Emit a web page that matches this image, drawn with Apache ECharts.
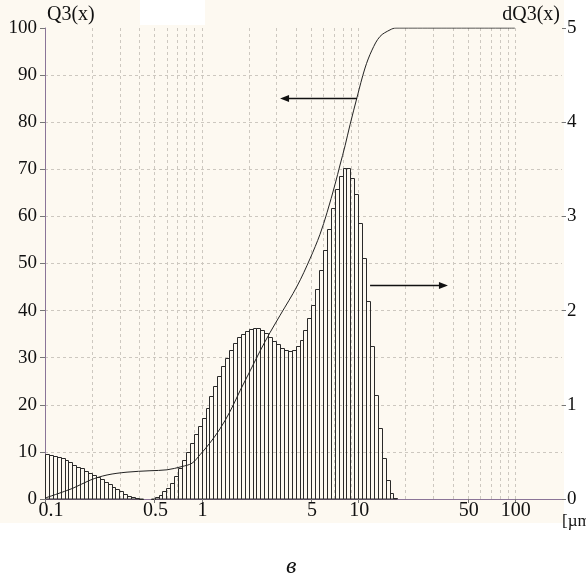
<!DOCTYPE html>
<html><head><meta charset="utf-8">
<script src="https://cdn.jsdelivr.net/npm/echarts@6/dist/echarts.min.js"></script>
<style>html,body{margin:0;padding:0;background:#fff;}#c{width:586px;height:585px;}</style>
</head><body><div id="c"></div>
<script>
// ---- data ----
const binStart = 0.1;          // lower edge of first size class [µm]
const binsPerDecade = 40;      // log-spaced size classes
// dQ3(x) per size class (right axis)
const dQ3 = [0.48,0.47,0.46,0.445,0.43,0.415,0.39,0.365,0.345,0.325,
  0.30,0.275,0.255,0.235,0.21,0.18,0.16,0.13,0.105,0.08,
  0.055,0.035,0.02,0.01,0.005,0,0,0.005,0.02,0.045,
  0.08,0.12,0.17,0.24,0.33,0.41,0.50,0.59,0.69,0.77,
  0.865,0.97,1.09,1.20,1.31,1.41,1.50,1.585,1.66,1.715,
  1.755,1.785,1.805,1.815,1.815,1.795,1.765,1.72,1.68,1.645,
  1.605,1.58,1.575,1.58,1.62,1.69,1.795,1.925,2.06,2.23,
  2.43,2.645,2.87,3.09,3.29,3.43,3.515,3.515,3.41,3.24,
  2.93,2.56,2.105,1.625,1.10,0.75,0.435,0.20,0.065,0.015];
// cumulative Q3(x) curve (left axis)
const q3Sizes  = [0.1,0.151,0.194,0.249,0.334,0.468,0.601,0.75,0.868,0.977,1.13,1.31,1.52,1.76,2.04,2.36,2.73,3.17,4.07,4.92,5.70,6.32,7.11,7.65,8.24,8.87,9.83,11.05,12.24,13.77,15.96,17.4,100];
const q3Values = [0.2,2.3,4.0,5.1,5.7,6.0,6.2,6.9,7.6,9.4,11.9,14.9,18.6,23.0,27.2,31.4,35.3,39.0,45.2,51.0,56.2,60.8,66.8,70.9,75.0,79.5,85.3,91.5,95.3,98.2,99.6,100,100];
const xTickLabels = [0.1,0.5,1,5,10,50,100];
const xGridLines = [0.2,0.3,0.4,0.5,0.6,0.7,0.8,0.9,1,2,3,4,5,6,7,8,9,10,20,30,40,50,60,70,80,90,100];
// arrows: [fromSize, fromQ3, toSize, toQ3]
const arrows = [[9.83,85.1,3.17,85.1],[11.9,45.4,37.4,45.4]];

// ---- build ----
const bars = dQ3.map((v,i)=>[binStart*Math.pow(10,i/binsPerDecade), binStart*Math.pow(10,(i+1)/binsPerDecade), v]);
const q3Data = q3Sizes.map((s,i)=>[s,q3Values[i]]);
const FONT = '"Liberation Serif", "Times New Roman", serif';
const purple = '#8b7598';
const gridCol = '#cdc8c0';

const chart = echarts.init(document.getElementById('c'), null, {renderer:'canvas'});
chart.setOption({
  animation:false,
  backgroundColor:'#fdf9f1',
  grid:{left:45,right:24,top:28,bottom:86,containLabel:false},
  graphic:[
    {type:'rect',z:-10,shape:{x:564,y:0,width:30,height:585},style:{fill:'#ffffff'},silent:true},
    {type:'rect',z:-10,shape:{x:0,y:523,width:586,height:70},style:{fill:'#ffffff'},silent:true},
    {type:'rect',z:-10,shape:{x:140,y:0,width:65,height:25},style:{fill:'#ffffff'},silent:true},
    {type:'text',z:10,left:562,top:513,style:{text:'[µm]',font:'17px '+FONT,fill:'#111'}},
    {type:'text',z:10,left:286,top:555,style:{text:'в',font:'italic 24px '+FONT,fill:'#111'}}
  ],
  xAxis:[
    {type:'log',logBase:10,min:0.1,max:200,position:'bottom',
     axisLine:{show:false},axisTick:{show:false},axisLabel:{show:false},splitLine:{show:false}},
    {type:'log',logBase:10,min:0.1,max:200,position:'top',
     axisLine:{show:true,lineStyle:{color:purple,width:1}},axisTick:{show:false},axisLabel:{show:false},splitLine:{show:false}}
  ],
  yAxis:[
    {type:'value',min:0,max:100,interval:10,position:'left',
     name:'Q3(x)',nameLocation:'end',nameGap:3,
     nameTextStyle:{fontFamily:FONT,fontSize:20,color:'#111',align:'left',verticalAlign:'bottom',padding:[0,0,0,2]},
     axisLine:{show:true,onZero:false,lineStyle:{color:purple,width:1}},
     axisTick:{show:true,length:5,lineStyle:{color:'#777'}},
     axisLabel:{fontFamily:FONT,fontSize:19,color:'#111',margin:8},
     splitLine:{show:true,showMinLine:false,showMaxLine:false,lineStyle:{type:[3,3],color:gridCol,width:1}}},
    {type:'value',min:0,max:5,interval:1,position:'right',
     name:'dQ3(x)',nameLocation:'end',nameGap:3,
     nameTextStyle:{fontFamily:FONT,fontSize:20,color:'#111',align:'right',verticalAlign:'bottom',padding:[0,2,0,0]},
     axisLine:{show:false},
     axisTick:{show:true,length:4,lineStyle:{color:'#777'}},
     axisLabel:{fontFamily:FONT,fontSize:19,color:'#111',margin:5},
     splitLine:{show:false}}
  ],
  series:[
    { // vertical dashed grid lines at log minor positions
      type:'custom',coordinateSystem:'cartesian2d',xAxisIndex:0,yAxisIndex:0,z:1,silent:true,
      data:xGridLines.map(v=>[v]),encode:{x:0},
      renderItem:(p,api)=>{
        const a=api.coord([api.value(0),0]), b=api.coord([api.value(0),100]);
        const x=Math.round(a[0])+0.5;
        return {type:'line',shape:{x1:x,y1:a[1],x2:x,y2:b[1]},style:{stroke:gridCol,lineWidth:1,lineDash:[3,3]}};
      }
    },
    { // x tick labels
      type:'custom',coordinateSystem:'cartesian2d',xAxisIndex:0,yAxisIndex:0,z:5,silent:true,clip:false,
      data:xTickLabels.map(v=>[v]),encode:{x:0},
      renderItem:(p,api)=>{
        const v=api.value(0);
        const a=api.coord([v,0]);
        const x=Math.round(a[0])+0.5;
        const dx = (v===xTickLabels[0]) ? 6 : 1;
        return {type:'group',children:[
          {type:'line',shape:{x1:x,y1:a[1],x2:x,y2:a[1]+4},style:{stroke:'#777',lineWidth:1}},
          {type:'text',x:a[0]+dx,y:a[1]+2,style:{text:String(v),align:'center',verticalAlign:'top',font:'20px '+FONT,fill:'#111'}}
        ]};
      }
    },
    { // histogram dQ3
      type:'custom',coordinateSystem:'cartesian2d',xAxisIndex:0,yAxisIndex:1,z:2,silent:true,
      data:bars,encode:{x:[0,1],y:2},
      renderItem:(p,api)=>{
        const lo=api.value(0),hi=api.value(1),v=api.value(2);
        if(!(v>0)) return null;
        const a=api.coord([lo,v]), b=api.coord([hi,0]);
        const x0=Math.round(a[0])+0.5, x1=Math.round(b[0])+0.5, y0=Math.round(a[1])+0.5;
        return {type:'rect',shape:{x:x0,y:y0,width:x1-x0,height:b[1]-y0},
          style:{fill:'rgba(0,0,0,0)',stroke:'#2a2a2a',lineWidth:1}};
      }
    },
    { // cumulative Q3
      type:'line',xAxisIndex:0,yAxisIndex:0,z:3,data:q3Data,showSymbol:false,symbol:'none',
      smooth:0.35,silent:true,
      lineStyle:{color:'#222',width:1}
    },
    { // arrows
      type:'custom',coordinateSystem:'cartesian2d',xAxisIndex:0,yAxisIndex:0,z:4,silent:true,
      data:arrows,encode:{x:[0,2],y:[1,3]},
      renderItem:(p,api)=>{
        const a=api.coord([api.value(0),api.value(1)]), b=api.coord([api.value(2),api.value(3)]);
        const dir=Math.sign(b[0]-a[0]);
        const y=Math.round(a[1])+0.5;
        const L=9,W=3.5;
        return {type:'group',children:[
          {type:'line',shape:{x1:a[0],y1:y,x2:b[0]-dir*4,y2:y},style:{stroke:'#111',lineWidth:1.5}},
          {type:'polygon',shape:{points:[[b[0],y],[b[0]-dir*L,y-W],[b[0]-dir*L,y+W]]},style:{fill:'#111'}}
        ]};
      }
    }
  ]
});
</script></body></html>
